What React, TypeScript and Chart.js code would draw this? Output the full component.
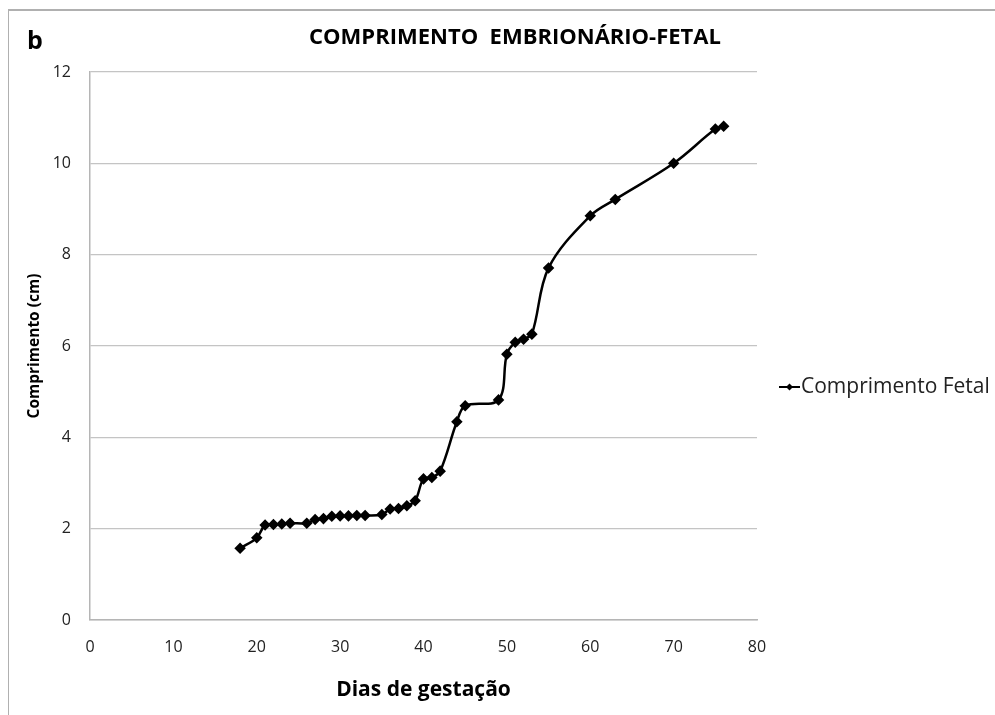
import React, { useEffect, useRef } from "react";
import { Chart, registerables } from "chart.js";

Chart.register(...registerables);

const days = [18, 20, 21, 22, 23, 24, 26, 27, 28, 29, 30, 31, 32, 33, 35, 36, 37, 38, 39, 40, 41, 42, 44, 45, 49, 50, 51, 52, 53, 55, 60, 63, 70, 75, 76];
const lengths = [1.57, 1.8, 2.08, 2.09, 2.1, 2.12, 2.12, 2.2, 2.22, 2.27, 2.28, 2.28, 2.29, 2.29, 2.31, 2.43, 2.44, 2.5, 2.61, 3.09, 3.12, 3.26, 4.34, 4.69, 4.82, 5.82, 6.08, 6.15, 6.26, 7.71, 8.85, 9.21, 10.0, 10.75, 10.81];
const seriesName = "Comprimento Fetal";
const chartTitle = "COMPRIMENTO  EMBRIONÁRIO-FETAL";
const panelLabel = "b";
const xTitle = "Dias de gestação";
const yTitle = "Comprimento (cm)";

const FONT = "'Open Sans', sans-serif";

const textPlugin = {
  id: "customText",
  afterDraw(chart: any) {
    const ctx = chart.ctx;
    const area = chart.chartArea;
    ctx.save();
    ctx.fillStyle = "#000";
    ctx.textBaseline = "middle";
    // panel label
    ctx.textAlign = "center";
    ctx.font = "bold 25px " + FONT;
    ctx.fillText(panelLabel, 35, 42);
    // title
    ctx.font = "bold 22px " + FONT;
    ctx.fillText(chartTitle, 515, 38);
    // x title
    ctx.font = "bold 21px " + FONT;
    ctx.fillText(xTitle, (area.left + area.right) / 2, 690);
    // y title
    ctx.save();
    ctx.translate(35, (area.top + area.bottom) / 2);
    ctx.rotate(-Math.PI / 2);
    ctx.font = "bold 15.5px " + FONT;
    ctx.fillText(yTitle, 0, 0);
    ctx.restore();
    // legend
    const ly = 387;
    ctx.strokeStyle = "#000";
    ctx.lineWidth = 2;
    ctx.beginPath();
    ctx.moveTo(779, ly);
    ctx.lineTo(800, ly);
    ctx.stroke();
    ctx.beginPath();
    ctx.moveTo(789.5, ly - 3.5);
    ctx.lineTo(793, ly);
    ctx.lineTo(789.5, ly + 3.5);
    ctx.lineTo(786, ly);
    ctx.closePath();
    ctx.fill();
    ctx.textAlign = "left";
    ctx.font = "21px " + FONT;
    ctx.fillStyle = "#222";
    ctx.fillText(seriesName, 801, ly);
    ctx.restore();
  },
};

export default function App() {
  const ref = useRef<HTMLCanvasElement | null>(null);
  useEffect(() => {
    if (!ref.current) return;
    const chart = new Chart(ref.current, {
      type: "line",
      data: {
        datasets: [
          {
            label: seriesName,
            data: days.map((d, i) => ({ x: d, y: lengths[i] })),
            borderColor: "#000",
            backgroundColor: "#000",
            borderWidth: 2.5,
            tension: 0.35,
            pointStyle: "rectRot",
            pointRadius: 4,
            pointBackgroundColor: "#000",
            pointBorderColor: "#000",
          },
        ],
      },
      options: {
        responsive: false,
        animation: false,
        layout: { padding: { left: 0, top: 72, right: 238, bottom: 0 } },
        plugins: {
          legend: { display: false },
          title: { display: false },
          tooltip: { enabled: false },
        },
        scales: {
          x: {
            type: "linear",
            min: 0,
            max: 80,
            afterFit: (s: any) => {
              s.height = 95;
            },
            ticks: {
              stepSize: 10,
              padding: 18,
              color: "#222",
              font: { family: FONT, size: 16 },
              maxRotation: 0,
            },
            grid: { display: false, drawTicks: false },
            border: { display: true, color: "#b5b5b5", width: 1.5 },
          },
          y: {
            min: 0,
            max: 12,
            afterFit: (s: any) => {
              s.width = 90;
            },
            ticks: {
              stepSize: 2,
              padding: 19,
              color: "#222",
              font: { family: FONT, size: 16 },
            },
            grid: { color: "#c4c4c4", lineWidth: 1.2, drawTicks: false },
            border: { display: true, color: "#b5b5b5", width: 1.5 },
          },
        },
      },
      plugins: [textPlugin],
    });
    return () => chart.destroy();
  }, []);
  return (
    <div style={{ position: "absolute", left: 0, top: 0, width: 995, height: 715, background: "#fff", overflow: "hidden" }}>
      <div style={{ position: "absolute", left: 8, top: 9, width: 1000, height: 720, borderTop: "2px solid #b0b0b0", borderLeft: "1.5px solid #b0b0b0" }} />
      <canvas ref={ref} width={995} height={715} style={{ position: "absolute", left: 0, top: 0 }} />
    </div>
  );
}
